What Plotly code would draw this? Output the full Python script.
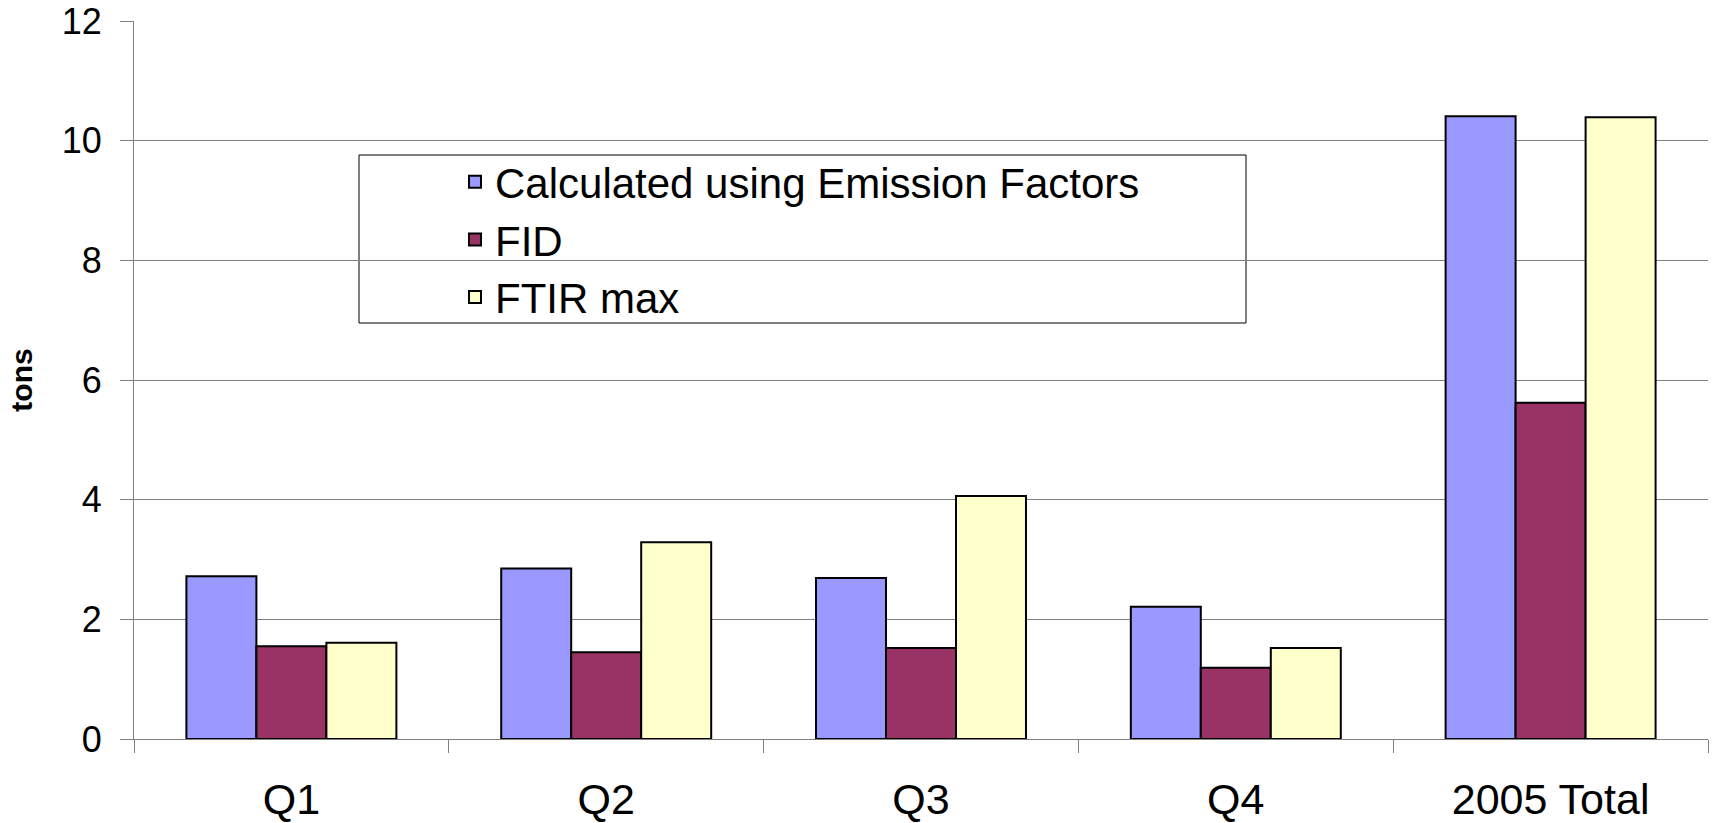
import plotly.graph_objects as go

categories = ["Q1", "Q2", "Q3", "Q4", "2005 Total"]
series_names = ["Calculated using Emission Factors", "FID", "FTIR max"]
calc_ef = [2.72, 2.85, 2.69, 2.21, 10.41]
fid = [1.55, 1.45, 1.52, 1.19, 5.62]
ftir_max = [1.61, 3.29, 4.06, 1.52, 10.39]
colors = ["#9999FF", "#993366", "#FFFFCC"]
y_ticks = [0, 2, 4, 6, 8, 10, 12]

W, H = 1717, 823
ml, mr, mt, mb = 134, 9, 21, 84

fig = go.Figure()
for name, vals, col in zip(series_names, [calc_ef, fid, ftir_max], colors):
    fig.add_trace(go.Bar(
        x=categories, y=vals, name=name,
        marker=dict(color=col, line=dict(color="black", width=2)),
    ))

pw = W - ml - mr
ph = H - mt - mb
def px_x(x):
    return (x - ml) / pw
def px_y(y):
    return (H - mb - y) / ph

fig.update_layout(
    width=W, height=H,
    margin=dict(l=ml, r=mr, t=mt, b=mb, pad=0),
    paper_bgcolor="white", plot_bgcolor="white",
    barmode="group", bargap=0.333, bargroupgap=0,
    font=dict(family="Liberation Sans, Arial, sans-serif", color="black"),
    showlegend=True,
    legend=dict(
        x=px_x(455), y=px_y(148), xanchor="left", yanchor="top",
        bgcolor="rgba(0,0,0,0)", borderwidth=0,
        font=dict(family="Liberation Sans, Arial", size=42, color="black"),
        tracegroupgap=0, itemsizing="constant",
    ),
    shapes=[dict(
        type="rect", xref="paper", yref="paper",
        x0=px_x(359), x1=px_x(1246), y0=px_y(323), y1=px_y(155),
        line=dict(color="black", width=1), fillcolor="white", layer="below",
    )],
)

fig.update_xaxes(
    automargin=False,
    showline=True, linecolor="#808080", linewidth=1,
    ticks="outside", tickson="boundaries", ticklen=13, tickcolor="#808080", tickwidth=1,
    tickfont=dict(family="Liberation Sans, Arial", size=43, color="black"),
    ticklabelstandoff=22,
    showgrid=False,
)
fig.update_yaxes(
    automargin=False,
    range=[0, 12], tickvals=y_ticks,
    showline=True, linecolor="#808080", linewidth=1,
    ticks="outside", ticklen=13, tickcolor="#808080", tickwidth=1,
    tickfont=dict(family="Liberation Sans, Arial", size=36, color="black"),
    ticklabelstandoff=11,
    showgrid=True, gridcolor="#808080", gridwidth=1,
    zeroline=False,
    title=dict(text="<b>tons</b>", font=dict(family="Liberation Sans, Arial", size=30, color="black"), standoff=20),
)

fig.write_html(
    "out.html",
    config={"displayModeBar": False},
    post_script="document.body.style.margin='0';document.body.style.overflow='hidden';",
)
